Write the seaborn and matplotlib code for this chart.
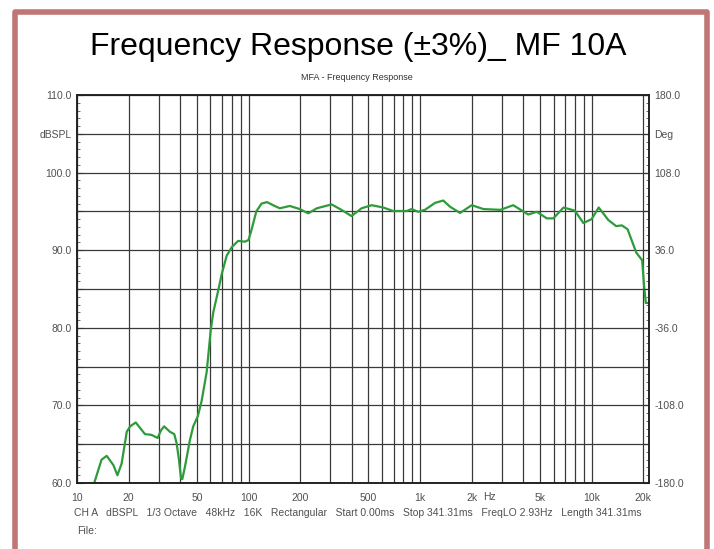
import numpy as np
import pandas as pd
import seaborn as sns
import matplotlib.pyplot as plt
from matplotlib.lines import Line2D
from matplotlib.ticker import FixedLocator, FixedFormatter, MultipleLocator
from matplotlib.transforms import blended_transform_factory

# datos (Hz, dBSPL)
freq = [12.6, 13.9, 14.9, 16.3, 17.2, 18.2, 19.5, 20.4, 22.0, 24.9, 27.2, 29.5, 30.9,
        32.2, 34.8, 36.9, 38.1, 39.3, 40.4, 41.1, 42.6, 45.5, 47.6, 50.6, 53.2, 57.0,
        60.2, 62.3, 66.7, 69.9, 74.6, 79.9, 87.0, 95.3, 99.9, 104, 111, 119, 128, 139,
        152, 174, 199, 223, 250, 305, 348, 398, 456, 522, 610, 697, 835, 893, 975,
        1067, 1223, 1365, 1495, 1710, 2000, 2340, 2940, 3490, 4270, 4790, 5480, 5980,
        6860, 7980, 8950, 10000, 11000, 12500, 13900, 15000, 16200, 18200, 19700,
        20200, 20700, 21600]
spl = [60.0, 63.0, 63.5, 62.3, 61.0, 62.5, 66.6, 67.3, 67.8, 66.3, 66.2, 65.8, 66.8,
       67.3, 66.6, 66.3, 65.1, 63.0, 60.6, 60.5, 62.1, 65.5, 67.3, 68.6, 70.5, 74.3,
       79.7, 82.0, 84.9, 87.0, 89.3, 90.4, 91.2, 91.1, 91.3, 92.6, 95.0, 96.0, 96.2, 95.8,
       95.4, 95.7, 95.3, 94.75, 95.4, 95.9, 95.2, 94.4, 95.4, 95.8, 95.5, 95.05, 95.05, 95.3, 94.95,
       95.2, 96.1, 96.4, 95.6, 94.8, 95.8, 95.3, 95.2, 95.8, 94.6, 94.95, 94.1, 94.1,
       95.5, 95.1, 93.5, 94.0, 95.5, 93.9, 93.1, 93.2, 92.7, 89.7, 88.7,
       85.5, 83.2, 83.2]

x_grid = [10, 20, 30, 40, 50, 60, 70, 80, 90, 100, 200, 300, 400, 500, 600, 700, 800, 900,
          1000, 2000, 3000, 4000, 5000, 6000, 7000, 8000, 9000, 10000, 20000]
x_labels = {10: '10', 20: '20', 50: '50', 100: '100', 200: '200', 500: '500',
            1000: '1k', 2000: '2k', 5000: '5k', 10000: '10k', 20000: '20k'}
y_ticks = [60, 65, 70, 75, 80, 85, 90, 95, 100, 105, 110]
y_labels = {60: '60.0', 70: '70.0', 80: '80.0', 90: '90.0', 100: '100.0', 105: 'dBSPL', 110: '110.0'}
deg_ticks = [-180, -144, -108, -72, -36, 0, 36, 72, 108, 144, 180]
deg_labels = {-180: '-180.0', -108: '-108.0', -36: '-36.0', 36: '36.0', 108: '108.0',
              144: 'Deg', 180: '180.0'}

titulo = 'Frequency Response (±3%)_ MF 10A'
subtitulo = 'MFA - Frequency Response'
info = ('CH A   dBSPL   1/3 Octave   48kHz   16K   Rectangular   Start 0.00ms   '
        'Stop 341.31ms   FreqLO 2.93Hz   Length 341.31ms')

df = pd.DataFrame({'freq': freq, 'spl': spl})

sns.set_style("white")
plt.rcParams['font.family'] = ['Liberation Sans', 'DejaVu Sans']

gris = '#505050'
fig = plt.figure(figsize=(7.14, 5.49), dpi=100)
ax = fig.add_axes([77 / 714, 66 / 549, 572 / 714, 388 / 549])

sns.lineplot(data=df, x='freq', y='spl', ax=ax, color='#2e9b3a', lw=1.6,
             sort=False, estimator=None, solid_joinstyle='round')
ax.set_xscale('log')
ax.set_xlim(10, 21600)
ax.set_ylim(60, 110)
ax.set_xlabel('')
ax.set_ylabel('')

ax.xaxis.set_major_locator(FixedLocator(x_grid))
ax.xaxis.set_major_formatter(FixedFormatter([x_labels.get(v, '') for v in x_grid]))
ax.xaxis.set_minor_locator(FixedLocator([]))
ax.tick_params(axis='x', length=0, pad=7, labelsize=7.5, labelcolor=gris)

ax.yaxis.set_major_locator(FixedLocator(y_ticks))
ax.yaxis.set_major_formatter(FixedFormatter([y_labels.get(v, '') for v in y_ticks]))
ax.yaxis.set_minor_locator(MultipleLocator(1))
ax.tick_params(axis='y', which='major', direction='in', length=4, width=0.8,
               pad=4, labelsize=7.5, labelcolor=gris, color='#333333')
ax.tick_params(axis='y', which='minor', direction='in', length=2.5, width=0.6, color='#555555')

ax.grid(True, which='major', color='#3a3a3a', lw=0.9)
ax.set_axisbelow(True)

tr = blended_transform_factory(ax.transData, ax.transAxes)
ax.text(2550, -0.036, 'Hz', transform=tr, ha='center', va='center', fontsize=7.5, color=gris)

ax2 = ax.twinx()
ax2.set_ylim(-180, 180)
ax2.yaxis.set_major_locator(FixedLocator(deg_ticks))
ax2.yaxis.set_major_formatter(FixedFormatter([deg_labels.get(v, '') for v in deg_ticks]))
ax2.yaxis.set_minor_locator(MultipleLocator(7.2))
ax2.tick_params(axis='y', which='major', direction='in', length=4, width=0.8,
                pad=4, labelsize=7.5, labelcolor=gris, color='#333333')
ax2.tick_params(axis='y', which='minor', direction='in', length=2.5, width=0.6, color='#555555')

for a in (ax, ax2):
    for s in a.spines.values():
        s.set_color('#222222')
        s.set_linewidth(1.2)

fig.text(358 / 714, 1 - 47 / 549, titulo, ha='center', va='center', fontsize=23, color='black')
fig.text(357 / 714, 1 - 78 / 549, subtitulo, ha='center', va='center', fontsize=6.5, color='#333333')
fig.text(74 / 714, 1 - 513 / 549, info, ha='left', va='center', fontsize=7.5, color=gris)
fig.text(77 / 714, 1 - 531 / 549, 'File:', ha='left', va='center', fontsize=7.5, color=gris)

# marco
fig.add_artist(Line2D([15 / 714, 15 / 714, 707 / 714, 707 / 714],
                      [0, 1 - 12 / 549, 1 - 12 / 549, 0],
                      transform=fig.transFigure, color='#c07676', lw=4,
                      solid_joinstyle='round'))

plt.savefig('out.png', dpi=100)
